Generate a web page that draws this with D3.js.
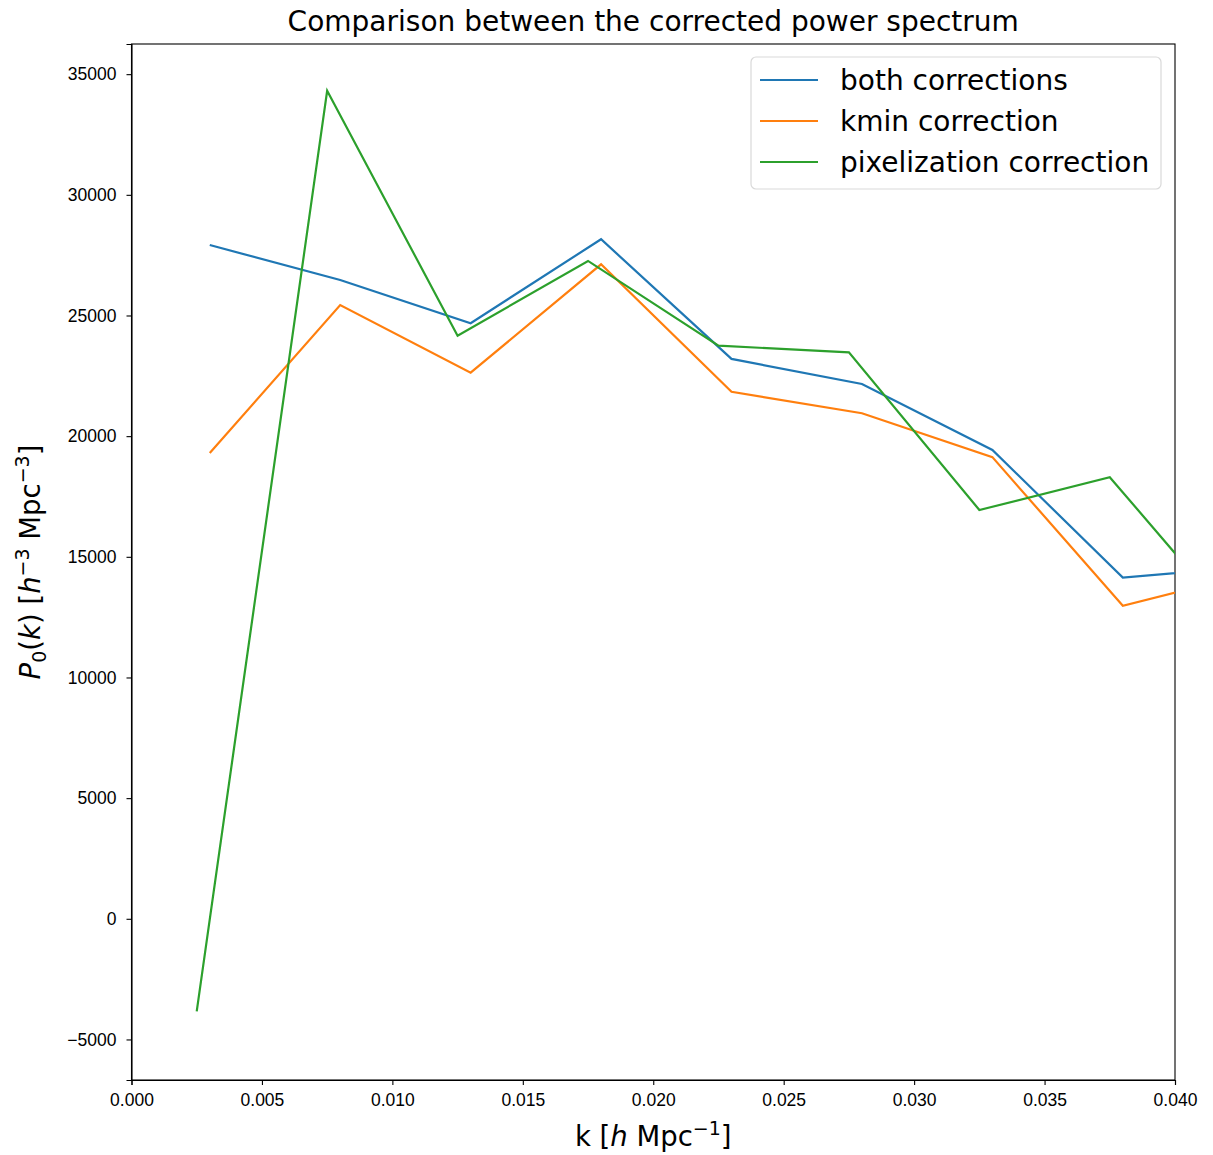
<!DOCTYPE html>
<meta charset="utf-8">
<style type="text/css">
    body { margin: 0; background: #fff; }
    svg { font-family: "DejaVu Sans", sans-serif; }
    .line { fill: none; stroke-width: 2.2; stroke-linejoin: miter; }
    .axis text { font-size: 17.5px; fill: #000; }
    .axis path, .axis line { stroke: #000; stroke-width: 1.1; }
</style>
<body>
</body>
<script src="https://cdn.jsdelivr.net/npm/d3@7"></script>
<script>

    // k values for each series (green is offset by half a bin)
    var kBoth = [0.003, 0.008, 0.013, 0.018, 0.023, 0.028, 0.033, 0.038, 0.043];
    var kPix = [0.0025, 0.0075, 0.0125, 0.0175, 0.0225, 0.0275, 0.0325, 0.0375, 0.0425];

    var pBoth = [27920, 26470, 24680, 28160, 23200, 22160, 19430, 14140, 14590];
    var pKmin = [19300, 25430, 22630, 27120, 21840, 20950, 19130, 12970, 14345];
    var pPix = [-3840, 34310, 24160, 27260, 23750, 23470, 16940, 18300, 12000];

    var seriesNames = ["both corrections", "kmin correction", "pixelization correction"];
    var seriesColors = ["#1f77b4", "#ff7f0e", "#2ca02c"];

    var xTicks = [0, 0.005, 0.01, 0.015, 0.02, 0.025, 0.03, 0.035, 0.04];
    var yTicks = [-5000, 0, 5000, 10000, 15000, 20000, 25000, 30000, 35000];

    var series = [
        {name: seriesNames[0], color: seriesColors[0], values: kBoth.map(function(k, i) { return {x: k, y: pBoth[i]}; })},
        {name: seriesNames[1], color: seriesColors[1], values: kBoth.map(function(k, i) { return {x: k, y: pKmin[i]}; })},
        {name: seriesNames[2], color: seriesColors[2], values: kPix.map(function(k, i) { return {x: k, y: pPix[i]}; })}
    ];

    var W = 1213, H = 1155;
    var margin = {top: 44, right: 38, bottom: 75, left: 131.5};
    var width = W - margin.left - margin.right,
        height = H - margin.top - margin.bottom;

    var xScale = d3.scaleLinear().domain([0, 0.04]).range([0, width]);
    var yScale = d3.scaleLinear().domain([-6680, 36250]).range([height, 0]);

    var svg = d3.select("body").append("svg")
        .attr("width", W)
        .attr("height", H);

    var g = svg.append("g")
        .attr("transform", "translate(" + margin.left + "," + margin.top + ")");

    g.append("clipPath").attr("id", "clip")
        .append("rect").attr("width", width).attr("height", height);

    // axes
    g.append("g")
        .attr("class", "x axis")
        .attr("transform", "translate(0," + height + ")")
        .call(d3.axisBottom(xScale).tickValues(xTicks).tickFormat(d3.format(".3f")).tickSizeOuter(0).tickSize(5).tickPadding(9));

    g.append("g")
        .attr("class", "y axis")
        .call(d3.axisLeft(yScale).tickValues(yTicks).tickFormat(function(d) { return d < 0 ? "\u2212" + Math.abs(d) : d; }).tickSizeOuter(0).tickSize(5).tickPadding(10));

    // frame
    g.append("rect")
        .attr("width", width).attr("height", height)
        .attr("fill", "none").attr("stroke", "#000").attr("stroke-width", 1.1);

    var line = d3.line()
        .x(function(d) { return xScale(d.x); })
        .y(function(d) { return yScale(d.y); });

    g.append("g").attr("clip-path", "url(#clip)")
        .selectAll(".line")
        .data(series)
        .enter().append("path")
        .attr("class", "line")
        .attr("stroke", function(d) { return d.color; })
        .attr("d", function(d) { return line(d.values); });

    // title
    svg.append("text")
        .attr("x", margin.left + width / 2).attr("y", 31)
        .attr("text-anchor", "middle")
        .style("font-size", "28px")
        .text("Comparison between the corrected power spectrum");

    // x label
    var xl = svg.append("text")
        .attr("x", margin.left + width / 2).attr("y", 1146)
        .attr("text-anchor", "middle")
        .style("font-size", "27.5px");
    xl.append("tspan").text("k [");
    xl.append("tspan").style("font-style", "italic").text("h");
    xl.append("tspan").text(" Mpc");
    xl.append("tspan").attr("dy", -11).style("font-size", "19px").text("\u22121");
    xl.append("tspan").attr("dy", 11).text("]");

    // y label
    var yl = svg.append("text")
        .attr("transform", "translate(40," + (margin.top + height / 2) + ") rotate(-90)")
        .attr("text-anchor", "middle")
        .style("font-size", "27.5px");
    yl.append("tspan").style("font-style", "italic").text("P");
    yl.append("tspan").attr("dy", 6).style("font-size", "19px").text("0");
    yl.append("tspan").attr("dy", -6).text("(");
    yl.append("tspan").style("font-style", "italic").text("k");
    yl.append("tspan").text(") [");
    yl.append("tspan").style("font-style", "italic").text("h");
    yl.append("tspan").attr("dy", -11).style("font-size", "19px").text("\u22123");
    yl.append("tspan").attr("dy", 11).text(" Mpc");
    yl.append("tspan").attr("dy", -11).style("font-size", "19px").text("\u22123");
    yl.append("tspan").attr("dy", 11).text("]");

    // legend
    var legend = svg.append("g").attr("transform", "translate(751,57)");
    legend.append("rect")
        .attr("width", 410).attr("height", 132)
        .attr("rx", 5).attr("ry", 5)
        .attr("fill", "#fff").attr("fill-opacity", 0.8)
        .attr("stroke", "#d9d9d9").attr("stroke-width", 1.2);

    var item = legend.selectAll(".item")
        .data(series)
        .enter().append("g")
        .attr("transform", function(d, i) { return "translate(0," + (23 + i * 41) + ")"; });

    item.append("line")
        .attr("x1", 9).attr("x2", 67)
        .attr("stroke", function(d) { return d.color; })
        .attr("stroke-width", 2.2);

    item.append("text")
        .attr("x", 89).attr("y", 10)
        .style("font-size", "28px")
        .text(function(d) { return d.name; });

</script>
